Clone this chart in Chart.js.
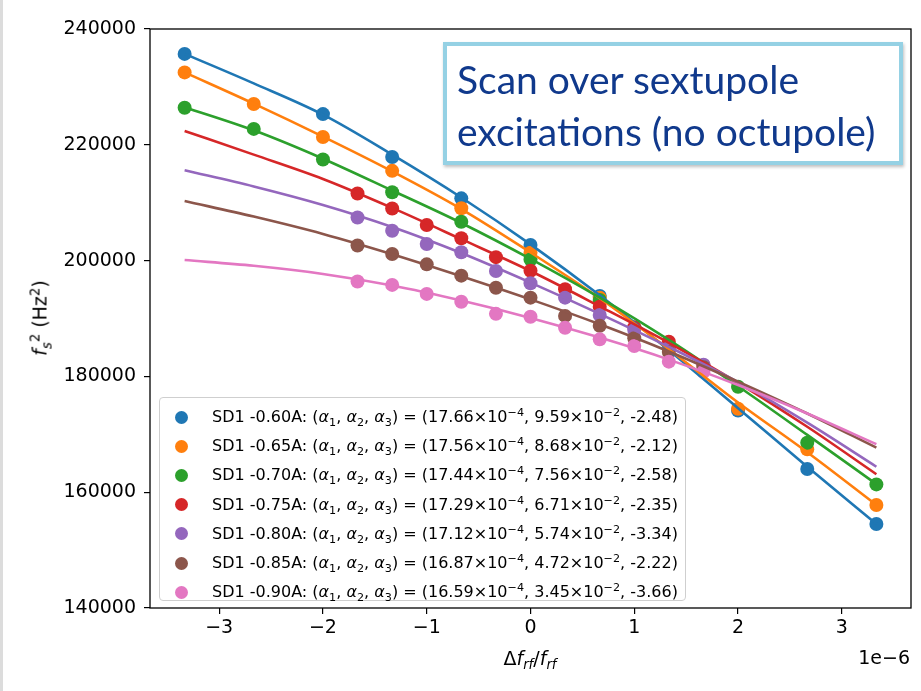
<!DOCTYPE html>
<html>
<head>
<meta charset="utf-8">
<title>Synchrotron tune vs RF frequency</title>
<script src="https://cdn.jsdelivr.net/npm/chart.js@4.4.1/dist/chart.umd.min.js"></script>
<style>
  html, body { margin: 0; padding: 0; background: #fff; }
  #wrap { position: relative; width: 921px; height: 691px; overflow: hidden; font-family: "DejaVu Sans", sans-serif; }
  #edge { position: absolute; left: 0; top: 0; width: 3px; height: 691px; background: #dcdcdc; }
  .lbl { position: absolute; font-size: 19px; line-height: 1; color: #000; white-space: nowrap; }
  .lbl sub, .lbl sup, #legend sub, #legend sup { font-size: 70%; line-height: 0; }
  #ytitle { left: 40px; top: 318px; transform: translate(-50%, -50%) rotate(-90deg); }
  #xtitle { left: 530px; top: 658px; transform: translate(-50%, -50%); }
  #offset { right: 11px; top: 657px; transform: translateY(-50%); }
  #note {
    position: absolute; left: 443px; top: 42px; width: 460px; height: 123px;
    border: 4px solid #95d1e4; background: #fff; box-shadow: 1px 2px 3px rgba(0,0,0,0.25);
    font-family: Lato, "Open Sans", sans-serif; font-size: 39px; line-height: 52px; color: #10398c;
    box-sizing: border-box; padding: 7px 0 0 10px;
  }
  #legend {
    position: absolute; left: 159px; top: 397px; width: 527px; height: 204px;
    border: 1px solid #cfcfcf; border-radius: 4px; background: rgba(255,255,255,0.85);
    box-sizing: border-box; font-size: 16px;
  }
  #legend .row { position: absolute; left: 0; height: 20px; line-height: 20px; white-space: nowrap; }
  #legend .dot { position: absolute; left: 15px; top: 3.5px; width: 13px; height: 13px; border-radius: 50%; }
  #legend .txt { position: absolute; left: 52px; top: 0; }
</style>
</head>
<body>
<div id="wrap">
  <canvas id="chart" width="921" height="691"></canvas>
  <div id="edge"></div>
  <div class="lbl" id="ytitle"><i>f</i><sub><i>s</i></sub><sup>2</sup> (Hz<sup>2</sup>)</div>
  <div class="lbl" id="xtitle">&Delta;<i>f</i><sub><i>rf</i></sub>/<i>f</i><sub><i>rf</i></sub></div>
  <div class="lbl" id="offset">1e&minus;6</div>
  <div id="legend"></div>
  <div id="note">Scan over sextupole<br>excitations (no octupole)</div>
</div>
<script>
// RF frequency offset, in units of 1e-6
var xWide = [-3.333, -2.667, -2, -1.333, -0.667, 0, 0.667, 1.333, 2, 2.667, 3.333];
var xNarrow = [-1.667, -1.333, -1, -0.667, -0.333, 0, 0.333, 0.667, 1, 1.333, 1.667];

// measured fs^2 (Hz^2) for each SD1 setting
var measA060 = [235700, null, 225300, 217900, 210750, 202700, 193900, 184800, 174100, 164000, 154500];
var measA065 = [232500, 227050, 221350, 215500, 209050, 201350, 193600, 185000, 174400, 167400, 157800];
var measA070 = [226400, 222750, 217450, 211800, 206700, 200200, 193200, 185400, 178200, 168550, 161350];
var measA075 = [211600, 209000, 206150, 203850, 200600, 198250, 195050, 192050, 188500, 186000, 181900];
var measA080 = [207450, 205150, 202870, 201450, 198200, 196100, 193600, 190600, 188000, 184900, 182000];
var measA085 = [202600, 201150, 199350, 197400, 195300, 193600, 190450, 188750, 186600, 184200, 181600];
var measA090 = [196400, 195800, 194250, 192900, 190800, 190300, 188400, 186400, 185250, 182550, 180800];

// fitted curves, sampled on xWide
var fitA060 = [235700, 230600, 225200, 218300, 210900, 202800, 194000, 184500, 174500, 164400, 154500];
var fitA065 = [232500, 227100, 221400, 215400, 208900, 201400, 193500, 184700, 175500, 166900, 157800];
var fitA070 = [226500, 222500, 217600, 212100, 206500, 200300, 193600, 186300, 178300, 169900, 161400];
var fitA075 = [222400, 218300, 214100, 209100, 203700, 198200, 192100, 185800, 178900, 171300, 163100];
var fitA080 = [215600, 212800, 209600, 205800, 201300, 196200, 190800, 185100, 179000, 172000, 164400];
var fitA085 = [210300, 207600, 204600, 201100, 197300, 193300, 189000, 184300, 179100, 173600, 167700];
var fitA090 = [200100, 199100, 197700, 195700, 193100, 190100, 186700, 182900, 178500, 173600, 168300];

// legend: SD1 current and fitted momentum compaction terms
var currents = ['-0.60', '-0.65', '-0.70', '-0.75', '-0.80', '-0.85', '-0.90'];
var alpha1 = ['17.66', '17.56', '17.44', '17.29', '17.12', '16.87', '16.59'];
var alpha2 = ['9.59', '8.68', '7.56', '6.71', '5.74', '4.72', '3.45'];
var alpha3 = ['-2.48', '-2.12', '-2.58', '-2.35', '-3.34', '-2.22', '-3.66'];

var colors = ['#1f77b4', '#ff7f0e', '#2ca02c', '#d62728', '#9467bd', '#8c564b', '#e377c2'];
var measured = [measA060, measA065, measA070, measA075, measA080, measA085, measA090];
var fitted = [fitA060, fitA065, fitA070, fitA075, fitA080, fitA085, fitA090];
var measX = [xWide, xWide, xWide, xNarrow, xNarrow, xNarrow, xNarrow];

function toPoints(xs, ys) {
    var pts = [];
    for (var i = 0; i < xs.length; i++) {
        if (ys[i] !== null) pts.push({ x: xs[i], y: ys[i] });
    }
    return pts;
}

// points first (underneath), then all fit lines on top; lower order = drawn later
var datasets = [];
for (var i = 0; i < colors.length; i++) {
    datasets.push({
        data: toPoints(measX[i], measured[i]),
        showLine: false,
        pointRadius: 7,
        pointHoverRadius: 7,
        pointBackgroundColor: colors[i],
        pointBorderWidth: 0,
        order: 13 - i
    });
}
for (var i = 0; i < colors.length; i++) {
    datasets.push({
        data: toPoints(xWide, fitted[i]),
        showLine: true,
        borderColor: colors[i],
        borderWidth: 2.6,
        pointRadius: 0,
        cubicInterpolationMode: 'monotone',
        order: 6 - i
    });
}

function minus(v) {
    return v < 0 ? '\u2212' + Math.abs(v) : String(v);
}

// full box around the plot area
var frame = {
    id: 'frame',
    afterDatasetsDraw: function (chart) {
        var a = chart.chartArea, ctx = chart.ctx;
        ctx.save();
        ctx.strokeStyle = '#000';
        ctx.lineWidth = 1.3;
        ctx.strokeRect(a.left, a.top, a.right - a.left, a.bottom - a.top);
        ctx.restore();
    }
};

var tickFont = { family: 'DejaVu Sans', size: 19 };

new Chart(document.getElementById('chart').getContext('2d'), {
    type: 'scatter',
    data: { datasets: datasets },
    options: {
        responsive: false,
        animation: false,
        events: [],
        layout: { padding: { top: 29, right: 10, left: 0, bottom: 0 } },
        plugins: { legend: { display: false }, tooltip: { enabled: false } },
        scales: {
            x: {
                type: 'linear',
                min: -3.6667,
                max: 3.6667,
                afterFit: function (s) { s.height = 83; },
                border: { display: false },
                grid: { drawOnChartArea: false, drawTicks: true, tickLength: 6, color: '#000', lineWidth: 1.2 },
                ticks: {
                    stepSize: 1,
                    includeBounds: false,
                    color: '#000',
                    font: tickFont,
                    padding: 3,
                    maxRotation: 0,
                    callback: function (v) { return minus(v); }
                }
            },
            y: {
                type: 'linear',
                min: 140000,
                max: 240000,
                afterFit: function (s) { s.width = 150; },
                border: { display: false },
                grid: { drawOnChartArea: false, drawTicks: true, tickLength: 6, color: '#000', lineWidth: 1.2 },
                ticks: {
                    stepSize: 20000,
                    color: '#000',
                    font: tickFont,
                    padding: 8,
                    callback: function (v) { return String(v); }
                }
            }
        }
    },
    plugins: [frame]
});

// legend rows
var legend = document.getElementById('legend');
for (var i = 0; i < currents.length; i++) {
    var row = document.createElement('div');
    row.className = 'row';
    row.style.top = (9 + i * 29.2) + 'px';
    row.innerHTML = '<span class="dot" style="background:' + colors[i] + '"></span>' +
        '<span class="txt">SD1 ' + currents[i] + 'A: (<i>&alpha;</i><sub>1</sub>, <i>&alpha;</i><sub>2</sub>, <i>&alpha;</i><sub>3</sub>) = (' +
        alpha1[i] + '&times;10<sup>&minus;4</sup>, ' + alpha2[i] + '&times;10<sup>&minus;2</sup>, ' + alpha3[i] + ')</span>';
    legend.appendChild(row);
}
</script>
</body>
</html>
